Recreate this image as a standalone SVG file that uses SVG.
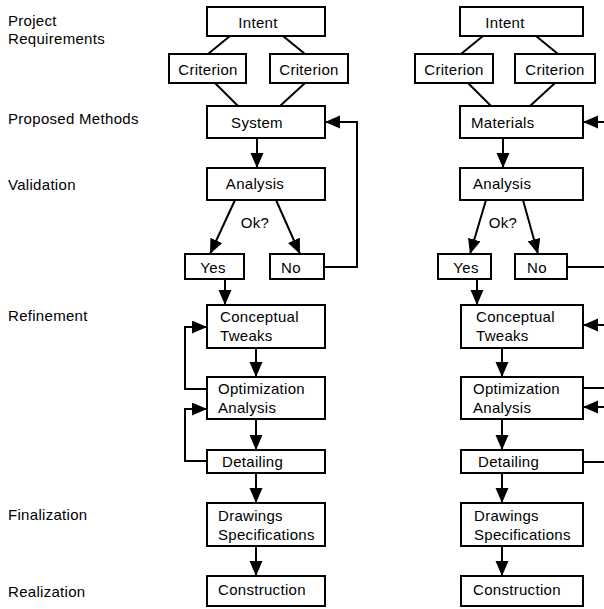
<svg xmlns="http://www.w3.org/2000/svg" width="604" height="609" viewBox="0 0 604 609">
<style>
rect{fill:#fff;stroke:#000;stroke-width:2}
text{font-family:"Liberation Sans",Arial,sans-serif;font-size:15px;fill:#000;letter-spacing:0.3px}
.c{text-anchor:middle}
.ln{fill:none;stroke:#000;stroke-width:2}
.ar{fill:none;stroke:#000;stroke-width:2;marker-end:url(#ah)}
</style>
<defs>
<marker id="ah" markerUnits="userSpaceOnUse" markerWidth="16" markerHeight="14" refX="15" refY="6.5" orient="auto">
<path d="M0,0 L15,6.5 L0,13 Z" fill="#000"/>
</marker>
</defs>
<g id="labels">
<text x="8" y="26">Project</text>
<text x="8" y="44">Requirements</text>
<text x="8" y="124">Proposed Methods</text>
<text x="8" y="190">Validation</text>
<text x="8" y="321">Refinement</text>
<text x="8" y="520">Finalization</text>
<text x="8" y="597">Realization</text>
</g>
<g id="connectors">
<path class="ln" d="M230,36 L208,54 M283,36 L305,54 M215,83 L238,106 M305,83 L280,106"/>
<path class="ar" d="M257,138 L257,168"/>
<path class="ar" d="M235,200 L210,254"/>
<path class="ar" d="M276,200 L300,254"/>
<path class="ar" d="M324,267 L357,267 L357,122 L325,122"/>
<path class="ar" d="M225,279 L225,305"/>
<path class="ar" d="M256,348 L256,377"/>
<path class="ar" d="M207,389 L185,389 L185,327 L207,327"/>
<path class="ar" d="M256,419 L256,450"/>
<path class="ar" d="M207,461 L185,461 L185,409 L207,409"/>
<path class="ar" d="M256,473 L256,503"/>
<path class="ar" d="M256,546 L256,576"/>
<path class="ln" d="M483,36 L461,54 M536,36 L558,54 M468,83 L491,106 M555,83 L530,106"/>
<path class="ar" d="M503,138 L503,168"/>
<path class="ar" d="M486,200 L470,254"/>
<path class="ar" d="M523,200 L538,254"/>
<path class="ln" d="M567,267 L604,267"/>
<path class="ar" d="M604,122 L583,122"/>
<path class="ar" d="M477,279 L477,305"/>
<path class="ar" d="M502,348 L502,377"/>
<path class="ar" d="M604,325 L583,325"/>
<path class="ln" d="M583,388 L604,388"/>
<path class="ar" d="M604,407 L583,407"/>
<path class="ar" d="M502,419 L502,450"/>
<path class="ln" d="M583,462 L604,462"/>
<path class="ar" d="M502,473 L502,503"/>
<path class="ar" d="M502,546 L502,576"/>
</g>
<g id="intent-l"><rect x="207" y="7" width="118" height="29"/><text class="c" x="258" y="28">Intent</text></g>
<g id="crit-l1"><rect x="169" y="54" width="77" height="29"/><text class="c" x="208" y="75">Criterion</text></g>
<g id="crit-l2"><rect x="270" y="54" width="78" height="29"/><text class="c" x="309" y="75">Criterion</text></g>
<g id="system"><rect x="207" y="106" width="118" height="32"/><text class="c" x="257" y="128">System</text></g>
<g id="analysis-l"><rect x="207" y="168" width="118" height="32"/><text class="c" x="255" y="189">Analysis</text></g>
<g id="ok-l"><text class="c" x="255" y="228">Ok?</text></g>
<g id="yes-l"><rect x="185" y="254" width="59" height="25"/><text class="c" x="213" y="273">Yes</text></g>
<g id="no-l"><rect x="270" y="254" width="54" height="25"/><text class="c" x="291" y="273">No</text></g>
<g id="concept-l"><rect x="207" y="305" width="118" height="43"/><text x="220" y="322">Conceptual</text><text x="220" y="341">Tweaks</text></g>
<g id="optim-l"><rect x="207" y="377" width="118" height="42"/><text x="218" y="394">Optimization</text><text x="218" y="413">Analysis</text></g>
<g id="detail-l"><rect x="207" y="450" width="118" height="23"/><text x="222" y="467">Detailing</text></g>
<g id="draw-l"><rect x="207" y="503" width="118" height="43"/><text x="218" y="521">Drawings</text><text x="218" y="540">Specifications</text></g>
<g id="constr-l"><rect x="207" y="576" width="118" height="30"/><text x="218" y="595">Construction</text></g>
<g id="intent-r"><rect x="460" y="7" width="123" height="29"/><text class="c" x="505" y="28">Intent</text></g>
<g id="crit-r1"><rect x="415" y="54" width="78" height="29"/><text class="c" x="454" y="75">Criterion</text></g>
<g id="crit-r2"><rect x="515" y="54" width="80" height="29"/><text class="c" x="555" y="75">Criterion</text></g>
<g id="materials"><rect x="460" y="106" width="123" height="32"/><text x="471" y="128">Materials</text></g>
<g id="analysis-r"><rect x="460" y="168" width="123" height="32"/><text x="473" y="189">Analysis</text></g>
<g id="ok-r"><text class="c" x="503" y="228">Ok?</text></g>
<g id="yes-r"><rect x="438" y="254" width="53" height="25"/><text class="c" x="466" y="273">Yes</text></g>
<g id="no-r"><rect x="515" y="254" width="52" height="25"/><text class="c" x="537" y="273">No</text></g>
<g id="concept-r"><rect x="461" y="305" width="122" height="43"/><text x="476" y="322">Conceptual</text><text x="476" y="341">Tweaks</text></g>
<g id="optim-r"><rect x="461" y="377" width="122" height="42"/><text x="473" y="394">Optimization</text><text x="473" y="413">Analysis</text></g>
<g id="detail-r"><rect x="461" y="450" width="122" height="23"/><text x="478" y="467">Detailing</text></g>
<g id="draw-r"><rect x="461" y="503" width="122" height="43"/><text x="474" y="521">Drawings</text><text x="474" y="540">Specifications</text></g>
<g id="constr-r"><rect x="461" y="576" width="122" height="30"/><text x="473" y="595">Construction</text></g>
</svg>
